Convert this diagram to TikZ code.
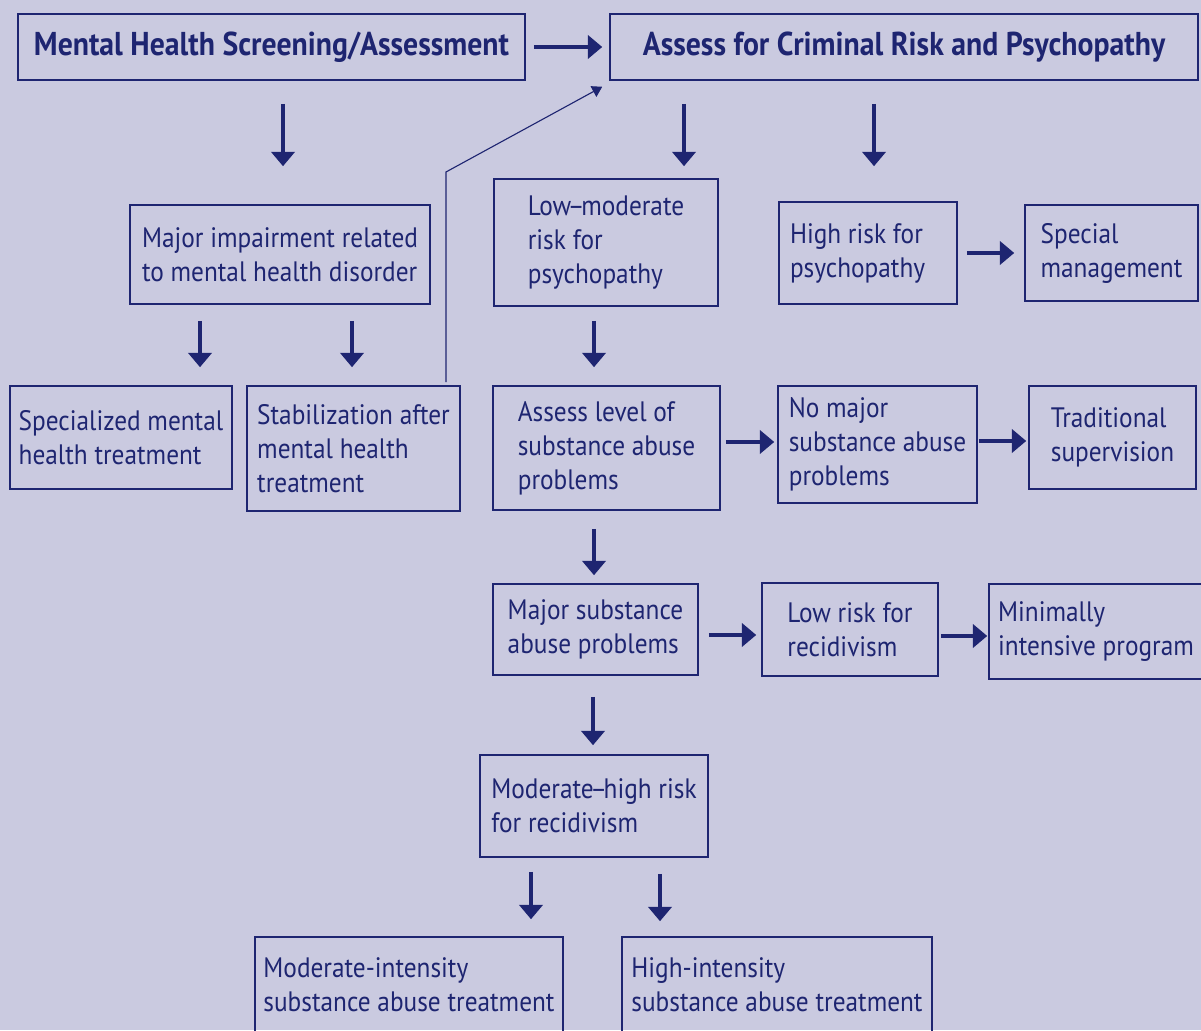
\documentclass[tikz,border=0pt]{standalone}
\usepackage{fontspec}
\setmainfont{PT Sans}[FakeStretch=0.9]
\usepackage{tikz}
\usetikzlibrary{arrows.meta,calc}
\definecolor{navy}{RGB}{30,37,113}
\definecolor{lavender}{RGB}{202,202,224}

\begin{document}
\begin{tikzpicture}[
    box/.style={rectangle, draw=navy, line width=1.1pt, text=navy, align=left, inner sep=0pt,
                font=\fontsize{20}{24.2}\selectfont},
    title/.style={box, font=\fontsize{23.5}{28}\selectfont\bfseries},
    arr/.style={draw=navy, line width=2.8pt, -{Triangle[length=0.36cm, width=0.58cm]}},
    link/.style={draw=navy, line width=0.8pt, -{Triangle[length=0.25cm, width=0.3cm]}}
]

\fill[lavender] (0,0) rectangle (30.025,25.75);
\useasboundingbox (0,0) rectangle (30.025,25.75);

% Top row
\node (mh) at (6.7875,24.575) [title, minimum width=12.675cm, minimum height=1.65cm] {Mental Health Screening/Assessment};
\node (crim) at (22.6,24.575) [title, minimum width=14.7cm, minimum height=1.65cm] {Assess for Criminal Risk and Psychopathy};

% Mental health branch
\node (imp) at (7.0,19.3875) [box, minimum width=7.5cm, minimum height=2.475cm] {Major impairment related\\to mental health disorder};
\node (spec) at (3.025,14.8125) [box, minimum width=5.55cm, minimum height=2.575cm] {Specialized mental\\health treatment};
\node (stab) at (8.8375,14.5375) [box, minimum width=5.325cm, minimum height=3.125cm] {Stabilization after\\mental health\\treatment};

% Psychopathy branch
\node (low) at (15.15,19.6875) [box, minimum width=5.6cm, minimum height=3.175cm] {Low\kern-0.12em--\kern-0.12em moderate\\risk for\\psychopathy};
\node (high) at (21.7,19.425) [box, align=flush left, text width=3.9cm, minimum width=4.45cm, minimum height=2.55cm] {High risk for\\psychopathy};
\node (special) at (27.7875,19.425) [box, minimum width=4.325cm, minimum height=2.4cm] {Special\\management};

% Substance abuse
\node (assess) at (15.1625,14.55) [box, minimum width=5.675cm, minimum height=3.1cm] {Assess level of\\substance abuse\\problems};
\node (nomaj) at (21.9375,14.6375) [box, minimum width=4.975cm, minimum height=2.925cm] {No major\\substance abuse\\problems};
\node (trad) at (27.8125,14.8125) [box, minimum width=4.175cm, minimum height=2.575cm] {Traditional\\supervision};
\node (major) at (14.8875,10.0125) [box, minimum width=5.125cm, minimum height=2.275cm] {Major substance\\abuse problems};
\node (lowrec) at (21.25,10.0125) [box, minimum width=4.4cm, minimum height=2.325cm] {Low risk for\\recidivism};
\node (minimal) at (27.4,9.9625) [box, minimum width=5.35cm, minimum height=2.375cm] {Minimally\\intensive program};

% Recidivism
\node (modhigh) at (14.85,5.6) [box, minimum width=5.7cm, minimum height=2.55cm] {Moderate\kern-0.12em--\kern-0.12em high risk\\for recidivism};
\node (modint) at (10.225,1.125) [box, minimum width=7.7cm, minimum height=2.4cm] {Moderate-intensity\\substance abuse treatment};
\node (highint) at (19.425,1.125) [box, minimum width=7.75cm, minimum height=2.4cm] {High-intensity\\substance abuse treatment};

% Arrows
\draw[arr, shorten <=0.2cm, shorten >=0.175cm] (mh) -- (crim);
\draw[arr, shorten <=0.575cm, shorten >=0.95cm] (mh.south -| 7.075,0) -- (imp.north -| 7.075,0);
\draw[arr, shorten <=0.575cm, shorten >=0.3cm] (crim.south -| 17.1,0) -- (low.north -| 17.1,0);
\draw[arr, shorten <=0.575cm, shorten >=0.875cm] (crim.south -| 21.85,0) -- (high.north -| 21.85,0);
\draw[arr, shorten <=0.225cm, shorten >=0.25cm] (high) -- (special);
\draw[arr, shorten <=0.4cm, shorten >=0.45cm] (imp.south -| 5.0,0) -- (spec.north -| 5.0,0);
\draw[arr, shorten <=0.4cm, shorten >=0.45cm] (imp.south -| 8.8,0) -- (stab.north -| 8.8,0);
\draw[arr, shorten <=0.35cm, shorten >=0.45cm] (low.south -| 14.85,0) -- (assess.north -| 14.85,0);
\draw[arr, shorten <=0.125cm, shorten >=0.075cm] (assess.east |- 0,14.7) -- (nomaj.west |- 0,14.7);
\draw[arr, shorten <=0.025cm, shorten >=0.05cm] (nomaj.east |- 0,14.725) -- (trad.west |- 0,14.725);
\draw[arr, shorten <=0.45cm, shorten >=0.2cm] (assess.south -| 14.85,0) -- (major.north -| 14.85,0);
\draw[arr, shorten <=0.25cm, shorten >=0.125cm] (major.east |- 0,9.875) -- (lowrec.west |- 0,9.875);
\draw[arr, shorten <=0.05cm, shorten >=0.025cm] (lowrec.east |- 0,9.85) -- (minimal.west |- 0,9.85);
\draw[arr, shorten <=0.525cm, shorten >=0.225cm] (major.south -| 14.825,0) -- (modhigh.north -| 14.825,0);
\draw[arr, shorten <=0.35cm, shorten >=0.425cm] (modhigh.south -| 13.275,0) -- (modint.north -| 13.275,0);
\draw[arr, shorten <=0.4cm, shorten >=0.375cm] (modhigh.south -| 16.5,0) -- (highint.north -| 16.5,0);

% Return path after stabilization
\coordinate (bend) at (11.15,21.45);
\draw[link, shorten <=0.075cm] (stab.north -| bend) -- (bend) -- ([shift={(-0.175cm,-0.15cm)}]crim.south west);

\end{tikzpicture}
\end{document}
